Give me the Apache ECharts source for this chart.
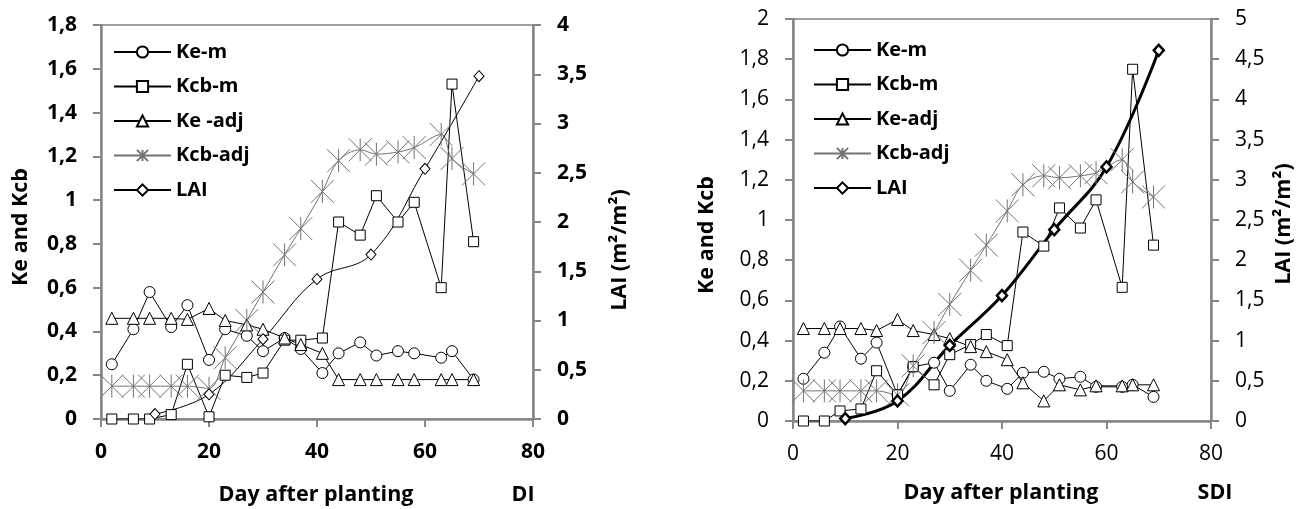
<!DOCTYPE html>
<html><head><meta charset="utf-8">
<script src="https://cdn.jsdelivr.net/npm/echarts@6/dist/echarts.min.js"></script>
<style>html,body{margin:0;padding:0;background:#fff}#c{width:1296px;height:509px}</style>
</head><body><div id="c"></div>
<script>
// ---------- data ----------
const days = [2,6,9,13,16,20,23,27,30,34,37,41,44,48,51,55,58,63,65,69];
const laiDays = [10,20,30,40,50,60,70];

// Panel DI
const keM_DI   = [0.25,0.41,0.58,0.42,0.52,0.27,0.41,0.38,0.31,0.37,0.32,0.21,0.30,0.35,0.29,0.31,0.30,0.28,0.31,0.18];
const kcbM_DI  = [0,0,0,0.02,0.25,0.01,0.20,0.19,0.21,0.36,0.36,0.37,0.90,0.84,1.02,0.90,0.99,0.60,1.53,0.81];
const keAdj_DI = [0.46,0.46,0.46,0.46,0.455,0.505,0.45,0.43,0.41,0.37,0.34,0.30,0.18,0.18,0.18,0.18,0.18,0.18,0.18,0.18];
const kcbAdj_DI= [0.15,0.15,0.15,0.15,0.15,0.14,0.28,0.45,0.58,0.75,0.87,1.04,1.18,1.23,1.21,1.22,1.24,1.30,1.19,1.12];
const lai_DI   = [0.05,0.25,0.81,1.42,1.67,2.54,3.48];

// Panel SDI
const keM_SDI   = [0.21,0.34,0.47,0.31,0.39,0.13,0.27,0.29,0.15,0.28,0.20,0.16,0.24,0.245,0.21,0.22,0.17,0.17,0.18,0.12];
const kcbM_SDI  = [0,0,0.05,0.06,0.25,0.13,0.27,0.18,0.33,0.38,0.43,0.375,0.94,0.87,1.06,0.96,1.10,0.665,1.75,0.875];
const keAdj_SDI = [0.46,0.46,0.46,0.46,0.45,0.505,0.45,0.43,0.41,0.37,0.345,0.305,0.19,0.10,0.18,0.155,0.175,0.175,0.18,0.18];
const kcbAdj_SDI= [0.15,0.15,0.15,0.15,0.15,0.13,0.275,0.44,0.58,0.75,0.875,1.045,1.175,1.22,1.21,1.22,1.235,1.30,1.19,1.115];
const lai_SDI   = [0.03,0.25,0.94,1.56,2.38,3.16,4.61];

// ---------- styling ----------
const FONT = '"Open Sans", Lato, sans-serif';
const AX = '#878787';
const GREY = '#737373';
const STAR = 'path://M5,0L5,10M0,0L10,10M10,0L0,10';
const fmt = v => String(Math.round(v*10)/10).replace('.', ',');
const pairs = (xs, ys) => xs.map((x,i)=>[x, ys[i]]);

function xAxis(gi, bold){
  return {type:'value', gridIndex:gi, min:0, max:80, interval:20,
    axisLine:{show:true, onZero:false, lineStyle:{color:AX, width:2.5}},
    axisTick:{show:true, length:8, lineStyle:{color:AX, width:2}},
    splitLine:{show:false},
    axisLabel:{margin:23, color:'#000', fontFamily:FONT, fontSize:21, fontWeight:bold?'bold':'normal'}};
}
function yAxis(gi, max, interval, pos, bold){
  return {type:'value', gridIndex:gi, min:0, max:max, interval:interval, position:pos,
    axisLine:{show:true, onZero:false, lineStyle:{color:AX, width:2.5}},
    axisTick:{show:true, length:8, lineStyle:{color:AX, width:2}},
    splitLine:{show:false},
    axisLabel:{margin:24, color:'#000', fontFamily:FONT, fontSize:21, fontWeight:bold?'bold':'normal', formatter:fmt}};
}
function hollow(name, sym, size, xs, ys, xi, yi, extra){
  return Object.assign({type:'line', name:name, xAxisIndex:xi, yAxisIndex:yi, data:pairs(xs,ys),
    symbol:sym, symbolSize:size, showSymbol:true,
    lineStyle:{color:'#000', width:1}, itemStyle:{color:'#fff', borderColor:'#000', borderWidth:1},
    emphasis:{disabled:true}, animation:false}, extra||{});
}
function star(name, xs, ys, xi, yi){
  return {type:'line', name:name, xAxisIndex:xi, yAxisIndex:yi, data:pairs(xs,ys),
    symbol:STAR, symbolSize:23, smooth:0.35,
    lineStyle:{color:GREY, width:1}, itemStyle:{color:GREY, borderColor:GREY, borderWidth:1},
    emphasis:{disabled:true}, animation:false};
}
const SFX = ' \u200bSDI';
const series = [
  hollow('Ke-m','circle',11,days,keM_DI,0,0),
  hollow('Kcb-m','rect',10,days,kcbM_DI,0,0),
  hollow('Ke -adj','triangle',12,days,keAdj_DI,0,0),
  star('Kcb-adj',days,kcbAdj_DI,0,0),
  hollow('LAI','diamond',[10,11],laiDays,lai_DI,0,1,{smooth:0.4}),

  hollow('Ke-m'+SFX,'circle',11,days,keM_SDI,1,2),
  hollow('Kcb-m'+SFX,'rect',10,days,kcbM_SDI,1,2),
  hollow('Ke-adj'+SFX,'triangle',12,days,keAdj_SDI,1,2),
  star('Kcb-adj'+SFX,days,kcbAdj_SDI,1,2),
  hollow('LAI'+SFX,'diamond',[10,11],laiDays,lai_SDI,1,3,
    {smooth:0.4, lineStyle:{color:'#000', width:3}, itemStyle:{color:'#fff', borderColor:'#000', borderWidth:2.5}})
];

function legend(left, top, names){
  return {left:left, top:top, orient:'vertical', itemWidth:57, itemHeight:14, itemGap:14.5,
    selectedMode:false, data:names, formatter:n=>n.replace(SFX,''),
    textStyle:{fontFamily:FONT, fontSize:20, fontWeight:'bold', color:'#000', lineHeight:19, padding:[0,0,0,0]}};
}
function title(text, x, y, rot, bold){
  return {type:'text', x:x, y:y, rotation:rot?Math.PI/2:0, z:100,
    style:{text:text, font:(bold?'bold ':'')+'21.5px '+FONT, fill:'#000',
      textAlign:'center', textVerticalAlign:'middle', align:'center', verticalAlign:'middle'}};
}

const chart = echarts.init(document.getElementById('c'), null, {renderer:'canvas'});
chart.setOption({
  animation:false,
  backgroundColor:'#fff',
  grid:[
    {left:101, right:763, top:25, bottom:90, show:true, borderColor:'#404040', borderWidth:1, containLabel:false},
    {left:793, right:85, top:19, bottom:88, show:true, borderColor:'#404040', borderWidth:1, containLabel:false}
  ],
  xAxis:[xAxis(0,true), xAxis(1,false)],
  yAxis:[yAxis(0,1.8,0.2,'left',true), yAxis(0,4,0.5,'right',true),
         yAxis(1,2,0.2,'left',false), yAxis(1,5,0.5,'right',false)],
  legend:[
    legend(108, 37, ['Ke-m','Kcb-m','Ke -adj','Kcb-adj','LAI']),
    legend(808, 35, ['Ke-m'+SFX,'Kcb-m'+SFX,'Ke-adj'+SFX,'Kcb-adj'+SFX,'LAI'+SFX])
  ],
  series:series,
  graphic:[
    title('Ke and Kcb', 21, 227, true, true),
    title('LAI (m\u00b2/m\u00b2)', 620, 250, true, true),
    title('Day after planting', 316, 495, false, true),
    title('DI', 523, 495, false, true),
    title('Ke and Kcb', 707, 235, true, true),
    title('LAI (m\u00b2/m\u00b2)', 1284, 224, true, true),
    title('Day after planting', 1001, 493, false, true),
    title('SDI', 1215, 493, false, true)
  ]
});
</script></body></html>
